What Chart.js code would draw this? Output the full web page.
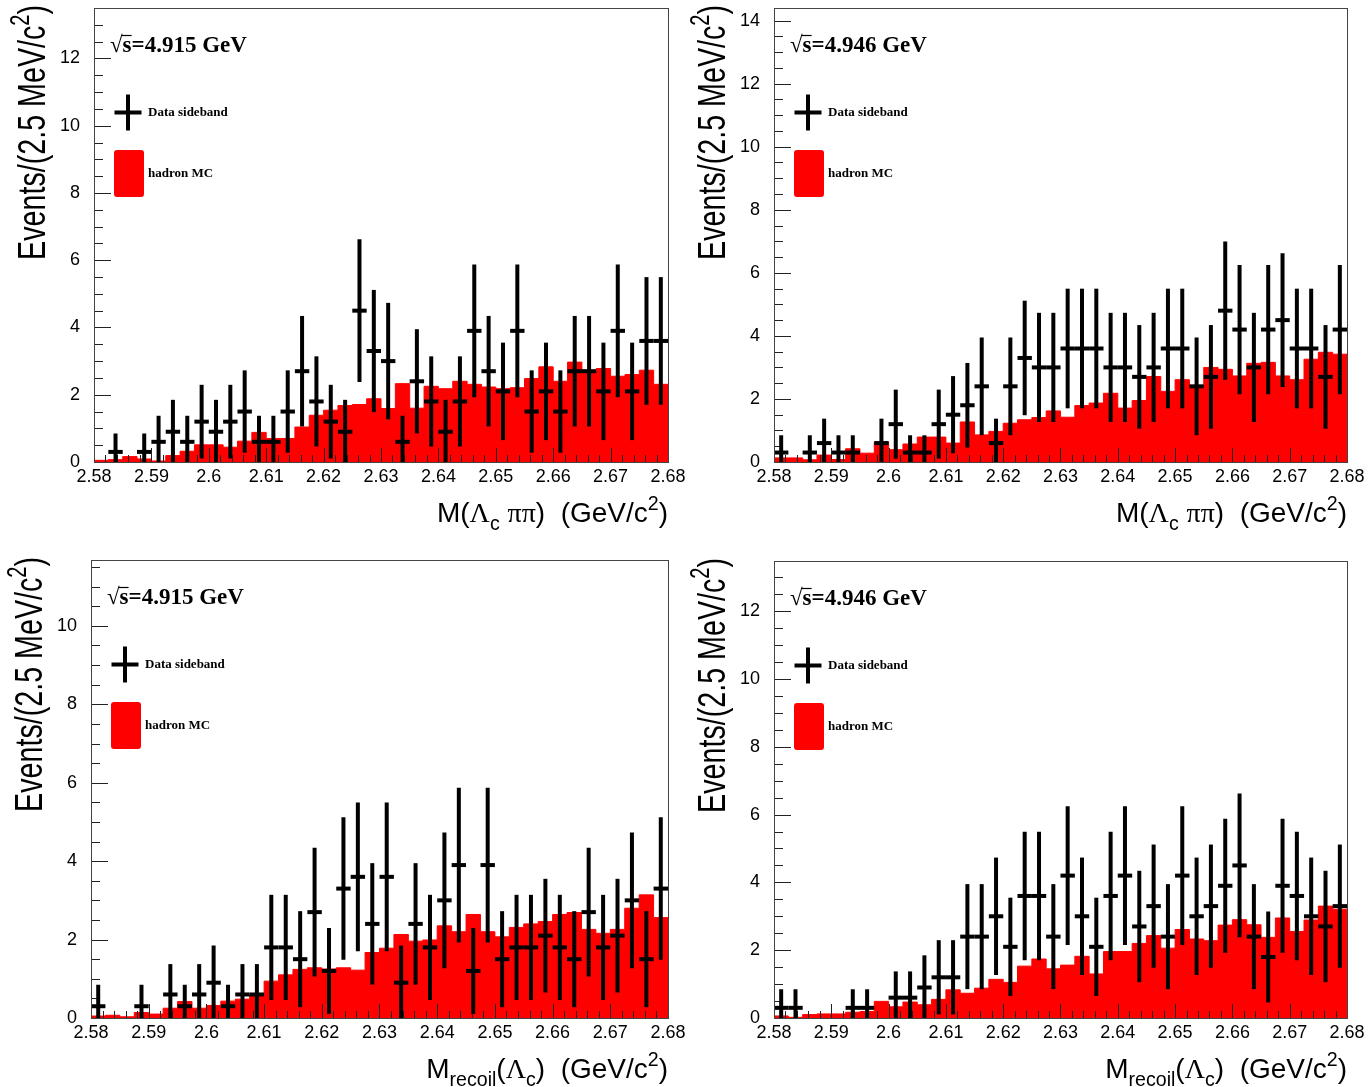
<!DOCTYPE html>
<html lang="en">
<head>
<meta charset="UTF-8">
<title>Data sideband vs hadron MC</title>
<script src="https://cdn.jsdelivr.net/npm/chart.js"></script>
<style>
  html, body { margin: 0; padding: 0; background: #fff; }
  body { width: 1370px; height: 1087px; position: relative; overflow: hidden; }
  canvas { position: absolute; }
</style>
</head>
<body>
<canvas id="c1"></canvas>
<canvas id="c2"></canvas>
<canvas id="c3"></canvas>
<canvas id="c4"></canvas>

<script>
// binning: 40 bins of 2.5 MeV from 2.58 to 2.68 GeV
const xMin = 2.58, xMax = 2.68, binWidth = 0.0025, nBins = 40;
const xTicks = [2.58, 2.59, 2.60, 2.61, 2.62, 2.63, 2.64, 2.65, 2.66, 2.67, 2.68];

// top left: M(Lc pi pi), sqrt(s) = 4.915 GeV
const dataTL = [0, 0.3, 0, 0.3, 0.6, 0.9, 0.6, 1.2, 0.9, 1.2,
                1.5, 0.6, 0.6, 1.5, 2.7, 1.8, 1.2, 0.9, 4.5, 3.3,
                3.0, 0.6, 2.4, 1.8, 0.9, 1.8, 3.9, 2.7, 2.1, 3.9,
                1.5, 2.1, 1.5, 2.7, 2.7, 2.1, 3.9, 2.1, 3.6, 3.6];
const mcTL = [0.05, 0.07, 0.16, 0.09, 0.03, 0.19, 0.32, 0.51, 0.51, 0.44,
              0.62, 0.88, 0.70, 0.70, 1.04, 1.39, 1.54, 1.68, 1.71, 1.88,
              1.59, 2.33, 1.60, 2.25, 2.18, 2.40, 2.31, 2.23, 2.18, 2.21,
              2.48, 2.83, 2.40, 2.97, 2.73, 2.78, 2.55, 2.60, 2.73, 2.31];
const yTicksTL = [0, 2, 4, 6, 8, 10, 12];

// top right: M(Lc pi pi), sqrt(s) = 4.946 GeV
const dataTR = [0.3, 0, 0.3, 0.6, 0.3, 0.3, 0, 0.6, 1.2, 0.3,
                0.3, 1.2, 1.5, 1.8, 2.4, 0.6, 2.4, 3.3, 3.0, 3.0,
                3.6, 3.6, 3.6, 3.0, 3.0, 2.7, 3.0, 3.6, 3.6, 2.4,
                2.7, 4.8, 4.2, 3.0, 4.2, 4.5, 3.6, 3.6, 2.7, 4.2];
const mcTR = [0.13, 0.13, 0.07, 0.22, 0.08, 0.42, 0.28, 0.63, 0.39, 0.57,
              0.79, 0.79, 0.60, 1.27, 0.86, 0.97, 1.23, 1.34, 1.41, 1.62,
              1.42, 1.79, 1.87, 2.18, 1.71, 1.95, 2.71, 2.24, 2.61, 2.39,
              3.00, 2.94, 2.73, 3.13, 3.16, 2.73, 2.61, 3.26, 3.48, 3.42];
const yTicksTR = [0, 2, 4, 6, 8, 10, 12, 14];

// bottom left: Mrecoil(Lc), sqrt(s) = 4.915 GeV
const dataBL = [0.3, 0, 0, 0.3, 0, 0.6, 0.3, 0.6, 0.9, 0.3,
                0.6, 0.6, 1.8, 1.8, 1.5, 2.7, 1.2, 3.3, 3.6, 2.4,
                3.6, 0.9, 2.4, 1.8, 3.0, 3.9, 1.2, 3.9, 1.5, 1.8,
                1.8, 2.1, 1.8, 1.5, 2.7, 1.8, 2.1, 3.0, 1.5, 3.3];
const mcBL = [0.05, 0.07, 0.03, 0.14, 0.10, 0.25, 0.42, 0.25, 0.32, 0.43,
              0.48, 0.59, 0.94, 1.10, 1.24, 1.28, 1.25, 1.28, 1.22, 1.67,
              1.78, 2.13, 1.96, 1.99, 2.35, 2.20, 2.64, 2.20, 2.07, 2.31,
              2.40, 2.46, 2.64, 2.69, 2.26, 2.16, 2.26, 2.80, 3.14, 2.56];
const yTicksBL = [0, 2, 4, 6, 8, 10];

// bottom right: Mrecoil(Lc), sqrt(s) = 4.946 GeV
const dataBR = [0.3, 0.3, 0, 0, 0, 0.3, 0.3, 0, 0.6, 0.6,
                0.9, 1.2, 1.2, 2.4, 2.4, 3.0, 2.1, 3.6, 3.6, 2.4,
                4.2, 3.0, 2.1, 3.6, 4.2, 2.7, 3.3, 2.4, 4.2, 3.0,
                3.3, 3.9, 4.5, 2.4, 1.8, 3.9, 3.6, 3.0, 2.7, 3.3];
const mcBR = [0.06, 0.02, 0.10, 0.12, 0.12, 0.17, 0.19, 0.49, 0.33, 0.47,
              0.39, 0.55, 0.83, 0.73, 0.88, 1.14, 1.05, 1.53, 1.74, 1.45,
              1.56, 1.82, 1.30, 1.96, 1.96, 2.20, 2.43, 2.06, 2.61, 2.33,
              2.28, 2.74, 2.90, 2.75, 2.38, 2.95, 2.55, 2.89, 3.30, 3.21];
const yTicksBR = [0, 2, 4, 6, 8, 10, 12];

const legendData = 'Data sideband';
const legendMC = 'hadron MC';
const yTitle = [['Events/(2.5 MeV/c', ''], ['2', 'sup'], [')', '']];
const titleMass = [['M(', ''], ['\u039B', 'g'], ['c', 'sub'], [' ', ''], ['\u03C0\u03C0', 'g'], [')  (GeV/c', ''], ['2', 'sup'], [')', '']];
const titleRecoil = [['M', ''], ['recoil', 'sub'], ['(', ''], ['\u039B', 'g'], ['c', 'sub'], [')  (GeV/c', ''], ['2', 'sup'], [')', '']];

const SANS = "'Liberation Sans', Arial, sans-serif";
const SERIF = "'Liberation Serif', 'Times New Roman', serif";

function drawRich(ctx, parts, x, y, size) {
  // right aligned at x, baseline y
  const fontFor = (kind) => {
    const s = (kind === 'sub' || kind === 'sup') ? size * 0.7 : size;
    return s + 'px ' + (kind === 'g' ? SERIF : SANS);
  };
  let total = 0;
  parts.forEach(p => { ctx.font = fontFor(p[1]); total += ctx.measureText(p[0]).width; });
  let cx = x - total;
  ctx.textAlign = 'left';
  ctx.textBaseline = 'alphabetic';
  parts.forEach(p => {
    ctx.font = fontFor(p[1]);
    let dy = 0;
    if (p[1] === 'sub') dy = size * 0.28;
    if (p[1] === 'sup') dy = -size * 0.42;
    ctx.fillText(p[0], cx, y + dy);
    cx += ctx.measureText(p[0]).width;
  });
}

const rootStyle = {
  id: 'rootStyle',
  afterDatasetsDraw(chart, args, o) {
    const ctx = chart.ctx, a = chart.chartArea;
    const xs = chart.scales.x, ys = chart.scales.y;
    ctx.save();
    ctx.fillStyle = '#000';
    ctx.strokeStyle = '#222';
    ctx.lineWidth = 1;
    // ticks inside the frame
    ctx.beginPath();
    for (let k = 0; k <= 50; k++) {
      const px = Math.round(xs.getPixelForValue(xMin + k * 0.002)) + 0.5;
      const len = k % 5 === 0 ? 14 : 7;
      ctx.moveTo(px, a.bottom);
      ctx.lineTo(px, a.bottom - len);
    }
    for (let k = 0; k * 0.5 <= o.yMax; k++) {
      const py = Math.round(ys.getPixelForValue(k * 0.5)) + 0.5;
      const len = k % 4 === 0 ? 17 : 9;
      ctx.moveTo(a.left, py);
      ctx.lineTo(a.left + len, py);
    }
    ctx.stroke();

    // vertical error bars (sqrt of content)
    ctx.save();
    ctx.beginPath();
    ctx.rect(a.left, a.top, a.right - a.left, a.bottom - a.top);
    ctx.clip();
    ctx.strokeStyle = '#000';
    ctx.lineWidth = 4;
    chart.data.datasets[1].data.forEach(p => {
      const e = Math.sqrt(p.y);
      const px = xs.getPixelForValue(p.x);
      ctx.beginPath();
      ctx.moveTo(px, ys.getPixelForValue(Math.max(p.y - e, 0)));
      ctx.lineTo(px, ys.getPixelForValue(p.y + e));
      ctx.stroke();
    });
    ctx.restore();

    // frame
    ctx.strokeStyle = '#444';
    ctx.lineWidth = 1;
    ctx.strokeRect(Math.round(a.left) + 0.5, Math.round(a.top) + 0.5,
                   Math.round(a.right - a.left), Math.round(a.bottom - a.top));

    // sqrt(s) label
    const L = a.left, T = a.top;
    ctx.fillStyle = '#000';
    ctx.textBaseline = 'alphabetic';
    ctx.textAlign = 'left';
    ctx.font = '23px ' + SERIF;
    const rootW = ctx.measureText('\u221A').width;
    ctx.fillText('\u221A', L + 16, T + 44);
    ctx.font = 'bold 23px ' + SERIF;
    const sW = ctx.measureText('s').width;
    ctx.fillText('s=' + o.energy + ' GeV', L + 16 + rootW, T + 44);
    ctx.beginPath();
    ctx.lineWidth = 1.2;
    ctx.strokeStyle = '#000';
    ctx.moveTo(L + 16 + rootW - 1, T + 27.5);
    ctx.lineTo(L + 16 + rootW + sW, T + 27.5);
    ctx.stroke();

    // legend
    ctx.lineWidth = 4;
    ctx.beginPath();
    ctx.moveTo(L + 20.5, T + 104.5); ctx.lineTo(L + 47.5, T + 104.5);
    ctx.moveTo(L + 34, T + 86.5); ctx.lineTo(L + 34, T + 122.5);
    ctx.stroke();
    ctx.fillStyle = '#ff0000';
    ctx.beginPath();
    ctx.roundRect(L + 20, T + 142, 30, 47, 3);
    ctx.fill();
    ctx.fillStyle = '#000';
    ctx.font = 'bold 13px ' + SERIF;
    ctx.textBaseline = 'middle';
    ctx.fillText(legendData, L + 54, T + 105);
    ctx.fillText(legendMC, L + 54, T + 166);

    // axis titles
    drawRich(ctx, o.xTitle, a.right, a.bottom + 60, 28);
    ctx.save();
    ctx.translate(L - 49, T - 3);
    ctx.rotate(-Math.PI / 2);
    ctx.scale(0.735, 1);
    drawRich(ctx, yTitle, 0, 0, 39);
    ctx.restore();
    ctx.restore();
  }
};

const binCenters = Array.from({ length: nBins }, (_, i) => xMin + (i + 0.5) * binWidth);
const binEdges = Array.from({ length: nBins + 1 }, (_, i) => xMin + i * binWidth);

const panels = [
  { id: 'c1', left: 0, top: -20, width: 700, height: 560, frame: [94, 8, 668, 462],
    data: dataTL, mc: mcTL, yMax: 13.5, yTicks: yTicksTL, energy: '4.915', xTitle: titleMass },
  { id: 'c2', left: 680, top: -20, width: 690, height: 560, frame: [774, 8, 1347, 462],
    data: dataTR, mc: mcTR, yMax: 14.4, yTicks: yTicksTR, energy: '4.946', xTitle: titleMass },
  { id: 'c3', left: 0, top: 538, width: 700, height: 549, frame: [91, 560, 668, 1018],
    data: dataBL, mc: mcBL, yMax: 11.68, yTicks: yTicksBL, energy: '4.915', xTitle: titleRecoil },
  { id: 'c4', left: 680, top: 538, width: 690, height: 549, frame: [774, 561, 1347, 1018],
    data: dataBR, mc: mcBR, yMax: 13.48, yTicks: yTicksBR, energy: '4.946', xTitle: titleRecoil }
];

panels.forEach(p => {
  const cv = document.getElementById(p.id);
  cv.width = p.width; cv.height = p.height;
  cv.style.left = p.left + 'px'; cv.style.top = p.top + 'px';
  const [L, T, R, B] = p.frame;

  const histPoints = binEdges.map((x, i) => ({ x: x, y: p.mc[Math.min(i, nBins - 1)] }));
  const dataPoints = [];
  p.data.forEach((v, i) => { if (v > 0) dataPoints.push({ x: binCenters[i], y: v }); });

  new Chart(cv.getContext('2d'), {
    type: 'line',
    data: {
      datasets: [
        {
          label: legendMC,
          data: histPoints,
          stepped: 'before',
          fill: 'origin',
          backgroundColor: '#ff0000',
          borderColor: '#ff0000',
          borderWidth: 1,
          pointRadius: 0,
          order: 2
        },
        {
          label: legendData,
          data: dataPoints,
          showLine: false,
          pointStyle: 'line',
          pointRadius: 7.2,
          pointBorderWidth: 4,
          pointBorderColor: '#000',
          pointBackgroundColor: '#000',
          order: 1
        }
      ]
    },
    options: {
      responsive: false,
      animation: false,
      events: [],
      layout: { padding: { left: 0, top: T - p.top, right: p.left + p.width - R, bottom: 0 } },
      plugins: {
        legend: { display: false },
        tooltip: { enabled: false },
        rootStyle: { yMax: p.yMax, energy: p.energy, xTitle: p.xTitle }
      },
      scales: {
        x: {
          type: 'linear',
          min: xMin, max: xMax,
          grid: { display: false },
          border: { display: false },
          afterBuildTicks: s => { s.ticks = xTicks.map(v => ({ value: v })); },
          afterFit: s => { s.height = p.top + p.height - B; },
          ticks: {
            color: '#000',
            font: { family: SANS, size: 18 },
            padding: -4,
            autoSkip: false,
            maxRotation: 0, minRotation: 0,
            callback: v => String(+v.toFixed(3))
          }
        },
        y: {
          min: 0, max: p.yMax,
          grid: { display: false },
          border: { display: false },
          afterBuildTicks: s => { s.ticks = p.yTicks.map(v => ({ value: v })); },
          afterFit: s => { s.width = L - p.left; },
          ticks: {
            color: '#000',
            font: { family: SANS, size: 18 },
            padding: 6
          }
        }
      }
    },
    plugins: [rootStyle]
  });
});
</script>
</body>
</html>
